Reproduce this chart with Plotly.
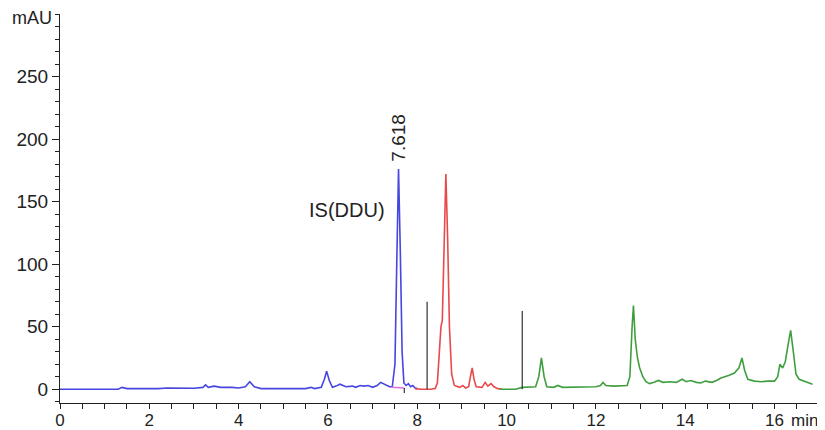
import plotly.graph_objects as go

# Blue segment (0 - 8 min)
blue_t = [0, 1.3, 1.39, 1.5, 2.2, 2.4, 3.0, 3.2, 3.26, 3.32, 3.45, 3.6, 3.85, 4.0, 4.15, 4.25, 4.35, 4.5,
          5.5, 5.62, 5.7, 5.85, 5.92, 5.97, 6.03, 6.1, 6.18, 6.27, 6.4, 6.55, 6.62, 6.72, 6.8, 6.9, 7.0,
          7.1, 7.18, 7.28, 7.38, 7.44, 7.5, 7.54, 7.58, 7.62, 7.66, 7.7, 7.75, 7.8, 7.85, 7.9, 7.95, 8.0]
blue_v = [0, 0, 1.5, 0.5, 0.5, 1, 0.8, 1.5, 3.5, 1.5, 2.5, 1.5, 1.5, 1, 2, 6, 2, 0.5,
          0.5, 1.5, 0.5, 1.5, 8, 14.5, 7, 1.5, 2.5, 4, 2, 2.5, 1.5, 3, 2.5, 3, 1.5,
          3, 5.5, 4, 2, 2, 20, 100, 176, 110, 30, 5, 3, 4.5, 2, 3, 1, 0.5]

# Red segment (8 - 10 min)
red_t = [7.95, 8.1, 8.3, 8.4, 8.45, 8.5, 8.53, 8.56, 8.6, 8.64, 8.68, 8.72, 8.77, 8.83, 8.95, 9.02, 9.08,
         9.15, 9.2, 9.23, 9.27, 9.32, 9.45, 9.52, 9.58, 9.65, 9.72, 9.8, 9.9]
red_v = [0.5, 0, 0, 0.5, 5, 30, 50, 55, 120, 172, 120, 50, 12, 3, 1.5, 3, 1,
         2, 12, 17, 8, 2, 1.5, 5.5, 2.5, 4.5, 2, 0.5, 0]

# Green segment (10 - 17 min)
green_t = [9.85, 10.2, 10.35, 10.5, 10.65, 10.72, 10.78, 10.84, 10.9, 11.05, 11.15, 11.25, 11.6, 12.0, 12.1,
           12.16, 12.22, 12.4, 12.7, 12.76, 12.81, 12.84, 12.88, 12.93, 12.98, 13.05, 13.12, 13.2, 13.3, 13.4,
           13.5, 13.65, 13.8, 13.93, 14.02, 14.12, 14.25, 14.35, 14.45, 14.6, 14.7, 14.8, 14.97, 15.1, 15.2,
           15.27, 15.33, 15.4, 15.55, 15.7, 15.85, 16.0, 16.07, 16.12, 16.18, 16.24, 16.3, 16.36, 16.42, 16.48,
           16.55, 16.7, 16.85]
green_v = [0, 0, 1.5, 1.5, 2, 10, 25, 10, 2, 1.5, 3, 1.5, 1.5, 2, 3,
           5.5, 3, 2.5, 3, 10, 50, 67, 40, 25, 17, 10, 6, 4.5, 5.5, 7,
           5.5, 6, 5.5, 8, 6, 7, 5.5, 5, 6.5, 5.5, 7, 9, 11, 13, 17,
           25, 15, 8, 6.5, 6, 6.5, 6.5, 10, 20, 17, 22, 35, 47, 30, 12,
           8, 6, 4]

# Integration baseline under IS peak
base_t = [7.42, 7.71]
base_v = [1.5, 1]

# Event markers (vertical lines)
marker_t = [8.22, 10.35]
marker_h = [70, 62.5]

is_peak_t = 7.58
is_peak_v = 176
is_label = "7.618"

FONT = "Liberation Sans, Arial, sans-serif"

fig = go.Figure()
fig.add_trace(go.Scatter(x=blue_t, y=blue_v, mode="lines", line=dict(color="#4646e0", width=1.6)))
fig.add_trace(go.Scatter(x=red_t, y=red_v, mode="lines", line=dict(color="#e84a4a", width=1.6)))
fig.add_trace(go.Scatter(x=green_t, y=green_v, mode="lines", line=dict(color="#3f9f3f", width=1.6)))
fig.add_trace(go.Scatter(x=base_t, y=base_v, mode="lines", line=dict(color="#e070e0", width=1.5)))
for t, h in zip(marker_t, marker_h):
    fig.add_trace(go.Scatter(x=[t, t], y=[0, h], mode="lines", line=dict(color="#333333", width=1.2)))
fig.add_trace(go.Scatter(x=[base_t[1], base_t[1]], y=[base_v[1], -3], mode="lines",
                         line=dict(color="#333333", width=1.2)))

fig.add_annotation(x=is_peak_t, y=is_peak_v + 4, text=is_label, textangle=-90, showarrow=False,
                   xanchor="center", yanchor="bottom", font=dict(family=FONT, size=19, color="#222"))
fig.add_annotation(x=7.33, y=143, text="IS(DDU)", showarrow=False, xanchor="right", yanchor="middle",
                   font=dict(family=FONT, size=20, color="#222"))
fig.add_annotation(xref="paper", yref="paper", x=-0.008, y=0.99, text="mAU", showarrow=False,
                   xanchor="right", yanchor="middle", font=dict(family=FONT, size=18, color="#222"))
fig.add_annotation(xref="paper", yref="paper", x=0.983, y=-0.045, text="min", showarrow=False,
                   xanchor="center", yanchor="middle", font=dict(family=FONT, size=17, color="#222"))

# The page places the figure 8 px from the top-left corner, so the figure is 817x422.
fig.update_layout(
    width=817, height=422,
    margin=dict(l=52, r=8, t=6, b=27),
    plot_bgcolor="white", paper_bgcolor="white",
    showlegend=False,
    font=dict(family=FONT, size=18, color="#222"),
    xaxis=dict(range=[0, 16.95], tickmode="array", tickvals=[0, 2, 4, 6, 8, 10, 12, 14, 16],
               ticks="outside", ticklen=5, tickcolor="#222", showline=True, linecolor="#222",
               linewidth=1.2, showgrid=False, zeroline=False, automargin=False,
               tickfont=dict(size=17), ticklabelstandoff=-4,
               minor=dict(dtick=0.5, ticks="outside", ticklen=5, tickcolor="#222")),
    yaxis=dict(range=[-11, 300], tickmode="array", tickvals=[0, 50, 100, 150, 200, 250],
               ticks="outside", ticklen=7, tickcolor="#222", showline=True, linecolor="#222",
               linewidth=1.2, showgrid=False, zeroline=False, automargin=False,
               tickfont=dict(size=19),
               minor=dict(dtick=10, ticks="outside", ticklen=4, tickcolor="#222")),
)

fig.write_html("out.html")
